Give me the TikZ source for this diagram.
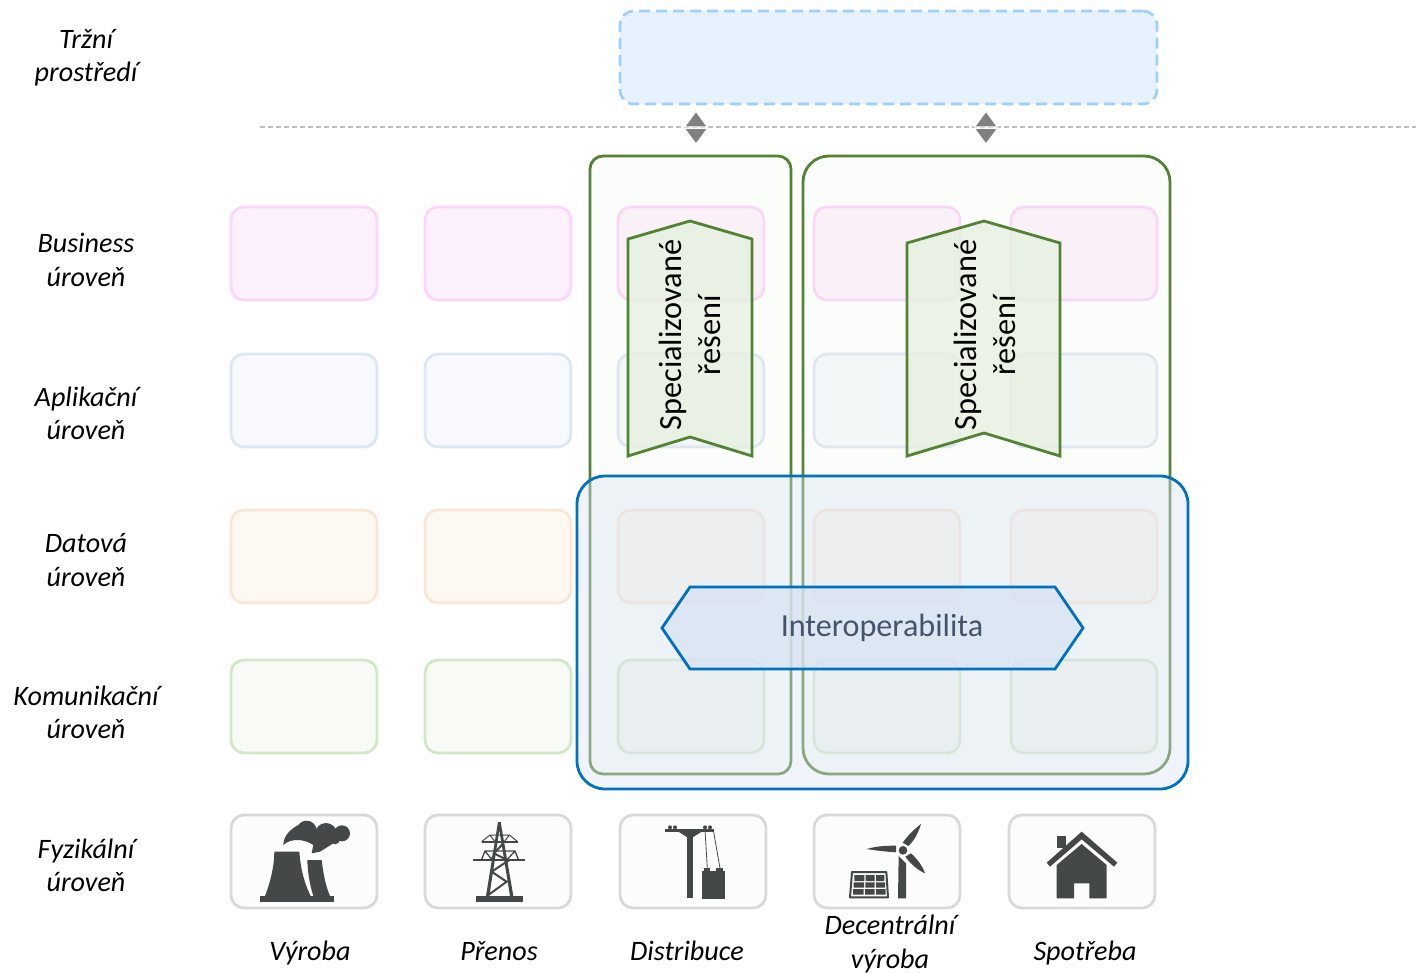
\documentclass[tikz,border=0pt]{standalone}
\usepackage{fontspec}
\setmainfont{Carlito}
\definecolor{icondark}{HTML}{454849}
\definecolor{frameGreen}{HTML}{548235}
\definecolor{frameBlue}{HTML}{0070C0}
\newlength{\pixel}
\setlength{\pixel}{0.02cm}
\tikzset{
	cell/.style={draw, rounded corners=13\pixel, line width=2.8\pixel, minimum width=146\pixel, minimum height=93\pixel},
	pinkcell/.style={cell, draw={rgb,255:red,252;green,212;blue,252}, fill={rgb,255:red,253;green,241;blue,253}},
	bluecell/.style={cell, draw={rgb,255:red,222;green,229;blue,244}, fill={rgb,255:red,247;green,249;blue,253}},
	orangecell/.style={cell, draw={rgb,255:red,251;green,229;blue,214}, fill={rgb,255:red,254;green,248;blue,243}},
	greencell/.style={cell, draw={rgb,255:red,210;green,231;blue,198}, fill={rgb,255:red,248;green,251;blue,245}},
	iconcell/.style={cell, draw={rgb,255:red,217;green,217;blue,217}, fill={rgb,255:red,252;green,252;blue,252}},
	panel/.style={draw=frameGreen, line width=2.8\pixel, fill={rgb,255:red,226;green,240;blue,217}, fill opacity=.12},
	pennant/.style={draw=frameGreen, line width=2.8\pixel, fill={rgb,255:red,230;green,240;blue,224}, fill opacity=.8},
	levellabel/.style={align=center, font=\fontsize{16}{18.9}\selectfont\itshape, inner sep=0pt},
	sectorlabel/.style={font=\fontsize{16}{18.9}\selectfont\itshape, inner sep=0pt, anchor=base},
	pennantlabel/.style={align=center, rotate=90, font=\fontsize{18.4}{22.5}\selectfont, inner sep=0pt},
	updown/.style={draw=white, line width=1\pixel, fill=gray},
}
\begin{document}
\begin{tikzpicture}[x=0.02cm, y=-0.02cm]
	\useasboundingbox (0, 0) rectangle (1416, 973);
	\draw [line width=1.2\pixel, color={rgb,255:red,191;green,191;blue,191}, dash pattern=on 5\pixel off 3\pixel] (260, 127) -- (1416, 127);

	\draw (304, 253.5) node [pinkcell] (b1) {};
	\draw (498, 253.5) node [pinkcell] (b2) {};
	\draw (691, 253.5) node [pinkcell] (b3) {};
	\draw (887, 253.5) node [pinkcell] (b4) {};
	\draw (1084, 253.5) node [pinkcell] (b5) {};
	\draw (304, 400.5) node [bluecell] (a1) {};
	\draw (498, 400.5) node [bluecell] (a2) {};
	\draw (691, 400.5) node [bluecell] (a3) {};
	\draw (887, 400.5) node [bluecell] (a4) {};
	\draw (1084, 400.5) node [bluecell] (a5) {};
	\draw (304, 556.5) node [orangecell] (d1) {};
	\draw (498, 556.5) node [orangecell] (d2) {};
	\draw (691, 556.5) node [orangecell] (d3) {};
	\draw (887, 556.5) node [orangecell] (d4) {};
	\draw (1084, 556.5) node [orangecell] (d5) {};
	\draw (304, 706.5) node [greencell] (k1) {};
	\draw (498, 706.5) node [greencell] (k2) {};
	\draw (691, 706.5) node [greencell] (k3) {};
	\draw (887, 706.5) node [greencell] (k4) {};
	\draw (1084, 706.5) node [greencell] (k5) {};
	\draw (304, 861.5) node [iconcell] (f1) {};
	\draw (498, 861.5) node [iconcell] (f2) {};
	\draw (693, 861.5) node [iconcell] (f3) {};
	\draw (887, 861.5) node [iconcell] (f4) {};
	\draw (1082, 861.5) node [iconcell] (f5) {};

	\draw (690.5, 465) node [panel, rounded corners=13\pixel, minimum width=201\pixel, minimum height=618\pixel] (panelA) {};
	\draw (986.5, 465) node [panel, rounded corners=26\pixel, minimum width=367\pixel, minimum height=618\pixel] (panelB) {};
	\draw (882.5, 632.5) node [draw=frameBlue, line width=2.8\pixel, fill={rgb,255:red,217;green,226;blue,243}, fill opacity=.4, rounded corners=28\pixel, minimum width=611\pixel, minimum height=313\pixel] (interPanel) {};
	\draw (888.5, 57.5) node [draw={rgb,255:red,159;green,207;blue,255}, fill={rgb,255:red,230;green,242;blue,255}, line width=2.8\pixel, dash pattern=on 11\pixel off 6\pixel, rounded corners=14\pixel, minimum width=537\pixel, minimum height=93\pixel] (market) {};

	\draw [updown] (696, 111.5) -- (707.5, 127) -- (684.5, 127) -- cycle;
	\draw [updown] (696, 144) -- (707.5, 128.5) -- (684.5, 128.5) -- cycle;
	\draw [updown] (986, 111.5) -- (997.5, 127) -- (974.5, 127) -- cycle;
	\draw [updown] (986, 144) -- (997.5, 128.5) -- (974.5, 128.5) -- cycle;

	\draw [pennant] (628, 239) -- (690, 221) -- (752, 239) -- (752, 456) -- (690, 437) -- (628, 456) -- cycle;
	\draw [pennant] (907, 243) -- (984, 221) -- (1060, 243) -- (1060, 456) -- (984, 433) -- (907, 456) -- cycle;
	\draw [draw=frameBlue, line width=2.8\pixel, fill={rgb,255:red,217;green,227;blue,243}, fill opacity=.78] (662, 628) -- (690, 587) -- (1055, 587) -- (1083, 628) -- (1055, 669) -- (690, 669) -- cycle;
	\draw (690, 335) node [pennantlabel] (specA) {Specializované\\řešení};
	\draw (985, 335) node [pennantlabel] (specB) {Specializované\\řešení};
	\draw (882, 636) node [font=\fontsize{18.3}{20}\selectfont, color={rgb,255:red,68;green,84;blue,106}, inner sep=0pt, anchor=base] (interop) {Interoperabilita};

	\draw (86, 57.5) node [levellabel] (l1) {Tržní\\prostředí};
	\draw (86, 260) node [levellabel] (l2) {Business\\úroveň};
	\draw (86, 413) node [levellabel] (l3) {Aplikační\\úroveň};
	\draw (86, 560) node [levellabel] (l4) {Datová\\úroveň};
	\draw (86, 712) node [levellabel] (l5) {Komunikační\\úroveň};
	\draw (86, 865) node [levellabel] (l6) {Fyzikální\\úroveň};
	\draw (310, 960) node [sectorlabel] (s1) {Výroba};
	\draw (499, 960) node [sectorlabel] (s2) {Přenos};
	\draw (687, 960) node [sectorlabel] (s3) {Distribuce};
	\draw (890, 944) node [levellabel] (s4) {Decentrální\\výroba};
	\draw (1085, 960) node [sectorlabel] (s5) {Spotřeba};

	\begin{scope}[shift={(220, 800)}, scale=1/3, fill=icondark, draw=icondark]
		\fill (120, 288) rectangle (342, 305);
		\fill (163, 155) -- (238, 155) .. controls (242, 210) and (255, 255) .. (272, 288) -- (135, 288) .. controls (150, 250) and (163, 200) .. cycle;
		\fill (262, 180) -- (305, 180) .. controls (310, 225) and (318, 260) .. (330, 288) -- (280, 288) .. controls (268, 250) and (263, 215) .. cycle;
		\fill (260, 92) circle (30) (318, 102) circle (33) (366, 100) circle (24) (345, 118) circle (15);
		\fill (190, 135) .. controls (190, 105) and (215, 85) .. (240, 72) -- (290, 100) -- (340, 130) -- (300, 155) -- (275, 160) -- (280, 135) .. controls (255, 118) and (215, 112) .. cycle;

		\fill (768, 288) rectangle (908, 305);
		\fill (834, 66) -- (842, 66) -- (880, 288) -- (870, 288) -- (838, 90) -- (808, 288) -- (798, 288) -- cycle;
		\draw [line width=2\pixel] (805, 285) -- (860, 245) -- (815, 215) -- (865, 182) -- (822, 160) -- (850, 130);
		\draw [line width=1.7\pixel] (785, 125) -- (893, 125);
		\draw [line width=1\pixel] (785, 125) -- (810, 105) -- (868, 105) -- (893, 125) (810, 105) -- (825, 125) (868, 105) -- (853, 125);
		\draw [line width=2.3\pixel] (760, 181) -- (915, 181);
		\draw [line width=1.3\pixel] (785, 178) -- (795, 153) -- (885, 153) -- (895, 178) (795, 153) -- (815, 178) (885, 153) -- (862, 178) (815, 178) -- (825, 153);
	\end{scope}

	\begin{scope}[shift={(610, 800)}, scale=1/3, fill=icondark, draw=icondark]
		\fill (232, 105) rectangle (248, 295);
		\fill (165, 87) -- (313, 87) -- (313, 95) -- (165, 95) -- cycle;
		\fill (205, 95) -- (275, 95) -- (248, 112) -- (232, 112) -- cycle;
		\fill (180, 82) circle (6) (195, 82) circle (6) (285, 82) circle (6) (300, 82) circle (6);
		\draw [line width=.8\pixel] (285, 90) -- (292, 205) (310, 90) -- (330, 205);
		\fill (276, 212) rectangle (345, 296);
		\fill (282, 203) rectangle (300, 214);
		\fill (318, 203) rectangle (338, 214);

		\fill (864, 295) -- (888, 295) -- (888, 190) -- (866, 168) -- cycle;
		\fill (879, 151) circle (13);
		\fill (770, 147) .. controls (800, 138) and (830, 137) .. (858, 137) -- (858, 157) .. controls (830, 155) and (800, 152) .. cycle;
		\fill (933, 72) .. controls (925, 100) and (910, 125) .. (895, 138) -- (878, 128) .. controls (892, 108) and (912, 88) .. cycle;
		\fill (945, 220) .. controls (925, 212) and (900, 190) .. (886, 170) -- (903, 160) .. controls (920, 175) and (938, 198) .. cycle;
		\draw [line width=2\pixel, line join=round] (726, 216) -- (829, 216) -- (834, 292) -- (720, 292) -- cycle;
		\fill (733, 225) rectangle (763, 243) (767, 225) rectangle (794, 243) (798, 225) rectangle (823, 243);
		\fill (731, 247) rectangle (762, 263) (766, 247) rectangle (794, 263) (798, 247) rectangle (825, 263);
		\fill (729, 267) rectangle (761, 284) (765, 267) rectangle (794, 284) (798, 267) rectangle (827, 284);
	\end{scope}

	\begin{scope}[shift={(1000, 800)}, scale=1/3, fill=icondark]
		\fill (245, 95) -- (352, 188) -- (342, 200) -- (245, 118) -- (150, 200) -- (140, 188) -- cycle;
		\fill (171, 108) rectangle (197, 145);
		\fill (245, 132) -- (320, 195) -- (320, 295) -- (268, 295) -- (268, 250) -- (222, 250) -- (222, 295) -- (170, 295) -- (170, 195) -- cycle;
	\end{scope}
\end{tikzpicture}
\end{document}
